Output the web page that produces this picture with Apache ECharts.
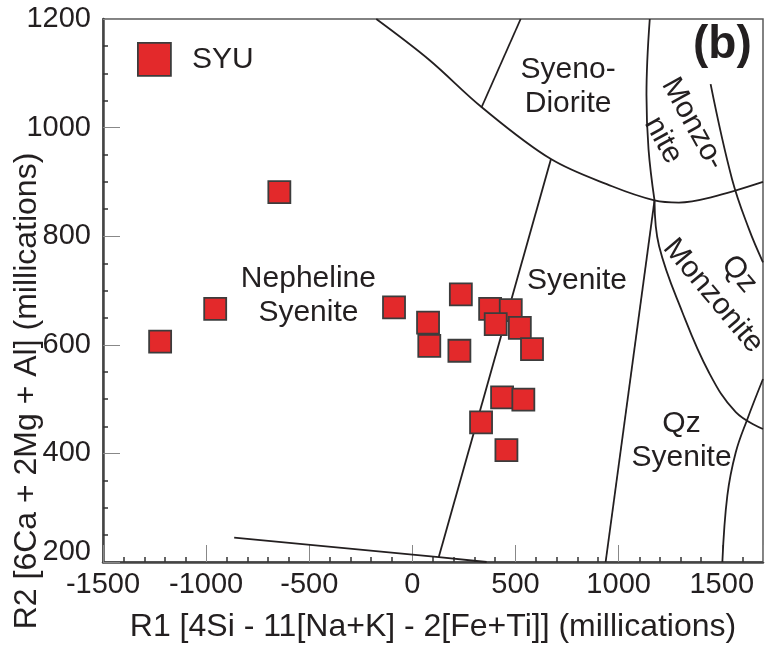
<!DOCTYPE html>
<html>
<head>
<meta charset="utf-8">
<script src="https://cdn.jsdelivr.net/npm/echarts@6/dist/echarts.min.js"></script>
<style>html,body{margin:0;padding:0;background:#fff}#c{width:767px;height:648px}</style>
</head>
<body>
<div id="c"></div>
<script>
// ---- Data ----
const seriesName = 'SYU';
const r1 = [-1223, -956, -645, -89, 76, 82, 235, 228, 377, 477, 404, 521, 580, 435, 538, 333, 456];
const r2 = [606, 666, 881, 669, 641, 598, 693, 589, 666, 664, 638, 631, 592, 503, 499, 457, 406];

const xTickValues = [-1500, -1000, -500, 0, 500, 1000, 1500];
const yTickValues = [200, 400, 600, 800, 1000, 1200];

// classification boundaries (R1, R2)
const curveMain = [[-175,1200],[81,1125],[338,1037],[672,942],[968,892],[1174,866],[1292,862],[1452,872],[1700,900]];
const lineSyenoDiorite = [[525,1200],[335,1037]];
const lineMonzoniteLeftTop = [[1151,1200],[1135,1060],[1145,960],[1174,866]];
const lineQzSyeniteLeft = [[1174,866],[937,200]];
const curveMonzoniteRight = [[1446,1080],[1550,905],[1632,813],[1700,752]];
const curveQzMonzoniteLeft = [[1174,866],[1196,782],[1309,660],[1438,549],[1568,476],[1700,445]];
const curveQzSyeniteRight = [[1700,537],[1624,463],[1568,402],[1527,322],[1503,200]];
const lineNephSyenite = [[672,942],[128,209]];
const lineBottom = [[-864,245],[128,209],[360,200]];

const regionNames = ['Nepheline\nSyenite', 'Syeno-\nDiorite', 'Syenite', 'Qz\nSyenite', 'Monzo-\nnite', 'Qz\nMonzonite'];
const regionX = [-504, 755, 798, 1305, 1288, 1521];
const regionY = [691, 1076, 718, 423, 992, 710];
const regionRotate = [0, 0, 0, 0, -61, -50];

// ---- Chart ----
const FONT = 'Liberation Sans, Arial, Helvetica, sans-serif';
const TXT = '#231f20';
const chart = echarts.init(document.getElementById('c'), null, {renderer: 'canvas'});

function boundary(data, smooth) {
  return {
    type: 'line', data: data, symbol: 'none', smooth: smooth || false,
    lineStyle: {color: TXT, width: 1.8}, silent: true, z: 2,
    clip: true, legendHoverLink: false
  };
}

const baseGraphic = [
  {id: 'panel', type: 'text', left: 693, top: 22, z: 100,
   style: {text: '(b)', fontSize: 46, fontWeight: 'bold', fill: TXT, fontFamily: FONT}},
  {id: 'ytitle', type: 'text', x: 27, y: 391, rotation: Math.PI / 2, z: 100,
   style: {text: 'R2 [6Ca + 2Mg + Al] (millications)', fontSize: 32, fill: TXT, fontFamily: FONT,
           align: 'center', verticalAlign: 'middle'}}
];

const option = {
  backgroundColor: '#fff',
  animation: false,
  textStyle: {fontFamily: FONT},
  grid: {left: 103, right: 4, top: 19, bottom: 84, show: true, borderColor: '#5a5a5a', borderWidth: 1.5, containLabel: false},
  legend: {
    data: [seriesName], left: 132, top: 37, itemWidth: 33, itemHeight: 33, icon: 'rect',
    itemStyle: {color: '#e3292b', borderColor: '#3c3c3c', borderWidth: 1.8},
    textStyle: {fontSize: 30, color: TXT, fontFamily: FONT, padding: [0, 0, 0, 16]},
    selectedMode: false
  },
  xAxis: {
    type: 'value', min: -1500, max: 1700, interval: 500,
    name: 'R1 [4Si - 11[Na+K] - 2[Fe+Ti]] (millications)', nameLocation: 'middle', nameGap: 49,
    nameTextStyle: {fontSize: 32, color: TXT, fontFamily: FONT},
    axisLine: {show: true, onZero: false, lineStyle: {color: '#444', width: 2.5}},
    axisTick: {show: true, inside: true, length: 17, lineStyle: {color: '#888', width: 1}},
    minorTick: {show: true, splitNumber: 5, length: 5, lineStyle: {color: '#333', width: 1.5}},
    splitLine: {show: false}, minorSplitLine: {show: false},
    axisLabel: {fontSize: 29, color: TXT, fontFamily: FONT, margin: 8,
      formatter: v => xTickValues.indexOf(v) >= 0 ? String(v) : ''}
  },
  yAxis: {
    type: 'value', min: 200, max: 1200, interval: 200,
    axisLine: {show: true, onZero: false, lineStyle: {color: '#444', width: 2.5}},
    axisTick: {show: true, inside: true, length: 17, lineStyle: {color: '#888', width: 1}},
    minorTick: {show: true, splitNumber: 4, length: 5, lineStyle: {color: '#333', width: 1.5}},
    splitLine: {show: false}, minorSplitLine: {show: false},
    axisLabel: {fontSize: 29, color: TXT, fontFamily: FONT, margin: 12,
      formatter: v => v === 200 ? '{lo|200}' : (yTickValues.indexOf(v) >= 0 ? String(v) : ''),
      rich: {lo: {fontSize: 29, color: TXT, fontFamily: FONT, padding: [0, 0, 20, 0]}}}
  },
  graphic: baseGraphic,
  series: [
    boundary(curveMain, 0.35),
    boundary(lineSyenoDiorite),
    boundary(lineMonzoniteLeftTop, 0.4),
    boundary(lineQzSyeniteLeft),
    boundary(curveMonzoniteRight, 0.4),
    boundary(curveQzMonzoniteLeft, 0.4),
    boundary(curveQzSyeniteRight, 0.4),
    boundary(lineNephSyenite),
    boundary(lineBottom),
    {
      type: 'scatter', name: seriesName, z: 5,
      symbol: 'rect', symbolSize: 22,
      itemStyle: {color: '#e3292b', borderColor: '#3c3c3c', borderWidth: 1.8, opacity: 1},
      data: r1.map((x, i) => [x, r2[i]])
    }
  ]
};
chart.setOption(option);

// region labels placed through the chart's own coordinate system
const regionGraphics = regionNames.map((n, i) => {
  const p = chart.convertToPixel({gridIndex: 0}, [regionX[i], regionY[i]]);
  return {
    id: 'region' + i, type: 'text', x: p[0], y: p[1], z: 50,
    rotation: regionRotate[i] * Math.PI / 180,
    style: {text: n, fontSize: 30, lineHeight: 34, fill: TXT, fontFamily: FONT,
            align: 'center', verticalAlign: 'middle'}
  };
});
chart.setOption({graphic: baseGraphic.concat(regionGraphics)});
</script>
</body>
</html>
